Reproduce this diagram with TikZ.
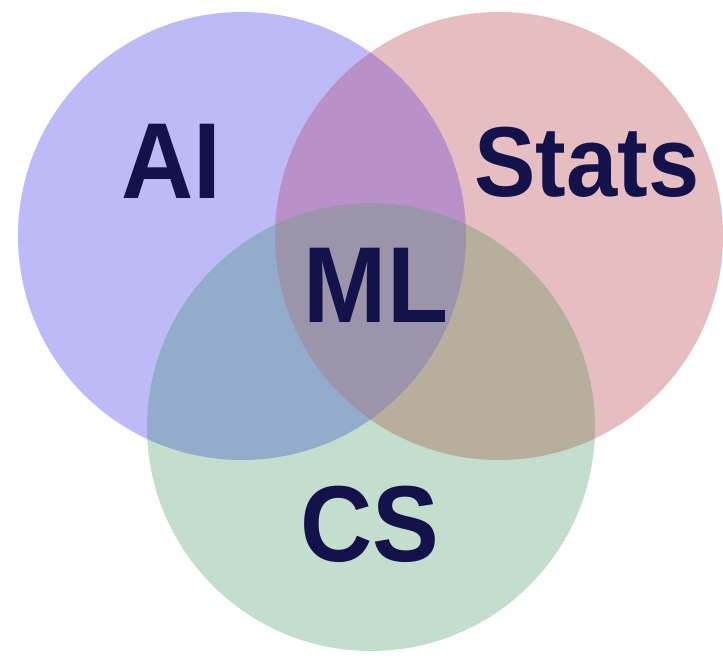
\documentclass[tikz,border=0pt]{standalone}
\usepackage{fontspec}
\setmainfont{Liberation Sans}
\usepackage{tikz}
\usetikzlibrary{positioning}

\definecolor{aicol}{HTML}{BEBAF8}
\definecolor{statscol}{HTML}{E6BEC1}
\definecolor{cscol}{HTML}{C4DECD}
\definecolor{aistats}{HTML}{B991C8}
\definecolor{aics}{HTML}{93ACCC}
\definecolor{statscs}{HTML}{B8AE9E}
\definecolor{mlcol}{HTML}{9B94AA}
\definecolor{labelnavy}{HTML}{14124A}

\tikzset{
    setlabel/.style={font=\bfseries\fontsize{100}{100}\selectfont, text=labelnavy, inner sep=0pt, yscale=1.08}
}

\begin{document}
\begin{tikzpicture}[x=1pt, y=1pt]
        \useasboundingbox (0,0) rectangle (723,656);
        \fill[white] (0,0) rectangle (723,656);

        % set centres
        \coordinate (ai c) at (242,420);
        \coordinate (stats c) at (499,420);
        \coordinate (cs c) at (371,229);

        \fill[aicol] (ai c) circle[radius=224pt];
        \fill[statscol] (stats c) circle[radius=224pt];
        \fill[cscol] (cs c) circle[radius=224pt];

        % pairwise overlaps
        \begin{scope}
            \clip (ai c) circle[radius=224pt];
            \fill[aistats] (stats c) circle[radius=224pt];
            \fill[aics] (cs c) circle[radius=224pt];
        \end{scope}
        \begin{scope}
            \clip (stats c) circle[radius=224pt];
            \fill[statscs] (cs c) circle[radius=224pt];
        \end{scope}

        % all three
        \begin{scope}
            \clip (ai c) circle[radius=224pt];
            \clip (stats c) circle[radius=224pt];
            \fill[mlcol] (cs c) circle[radius=224pt];
        \end{scope}

        \node[setlabel] (ai) at (171,495) {AI};
        \node[setlabel, font=\bfseries\fontsize{92}{92}\selectfont] (stats) at (587,494) {Stats};
        \node[setlabel] (ml) at (376,371) {ML};
        \node[setlabel] (cs) at (370,132) {CS};
    \end{tikzpicture}
\end{document}
